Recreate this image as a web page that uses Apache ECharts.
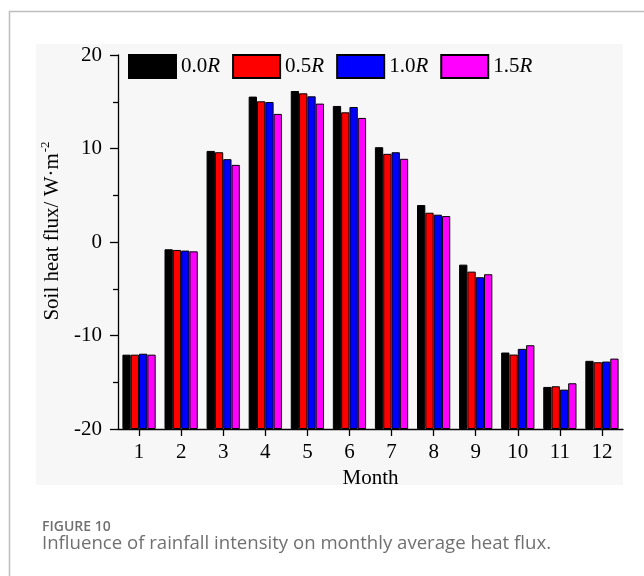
<!DOCTYPE html>
<html>
<head>
<meta charset="utf-8">
<script src="https://cdn.jsdelivr.net/npm/echarts@6/dist/echarts.min.js"></script>
<style>
  html, body { margin: 0; padding: 0; background: #ffffff; }
  #chart { width: 644px; height: 576px; }
</style>
</head>
<body>
<div id="chart"></div>
<script>
// Monthly mean soil heat flux (W·m^-2) under four rainfall intensities
const months = ['1', '2', '3', '4', '5', '6', '7', '8', '9', '10', '11', '12'];
const seriesNames = ['0.0R', '0.5R', '1.0R', '1.5R'];
const flux00R = [-12.05, -0.78, 9.74, 15.55, 16.15, 14.55, 10.14, 3.95, -2.42, -11.82, -15.50, -12.71];
const flux05R = [-12.05, -0.85, 9.60, 15.05, 15.90, 13.87, 9.43, 3.13, -3.17, -12.04, -15.43, -12.86];
const flux10R = [-11.95, -0.92, 8.86, 14.97, 15.58, 14.44, 9.60, 2.92, -3.77, -11.43, -15.79, -12.79];
const flux15R = [-12.05, -1.00, 8.25, 13.70, 14.80, 13.27, 8.90, 2.77, -3.45, -11.04, -15.11, -12.47];
const yTicks = { min: -20, max: 20, interval: 10 };

const seriesData = [flux00R, flux05R, flux10R, flux15R];
const seriesColors = ['#000000', '#ff0000', '#0000ff', '#ff00ff'];
const serif = '"Liberation Serif", "DejaVu Serif", serif';
const sans = '"Open Sans", "Noto Sans", sans-serif';

const chart = echarts.init(document.getElementById('chart'), null, { renderer: 'canvas' });

chart.setOption({
  animation: false,
  backgroundColor: '#ffffff',
  grid: { left: 118, top: 55, right: 21, bottom: 147, containLabel: false },
  legend: {
    left: 128,
    top: 54,
    padding: 0,
    itemWidth: 47,
    itemHeight: 23,
    itemGap: 12,
    icon: 'rect',
    data: seriesNames,
    formatter: function (name) {
      return name.slice(0, -1) + '{i|' + name.slice(-1) + '}';
    },
    textStyle: {
      fontFamily: serif,
      fontSize: 21,
      color: '#000',
      rich: { i: { fontFamily: serif, fontSize: 21, fontStyle: 'italic', color: '#000' } }
    }
  },
  xAxis: {
    type: 'category',
    data: months,
    name: 'Month',
    nameLocation: 'middle',
    nameGap: 39,
    nameTextStyle: { fontFamily: serif, fontSize: 21, color: '#000' },
    axisLine: { show: true, onZero: false, lineStyle: { color: '#000', width: 1.3 } },
    axisTick: { show: true, alignWithLabel: true, length: 7, lineStyle: { color: '#000', width: 1.3 } },
    axisLabel: { fontFamily: serif, fontSize: 21, color: '#000', margin: 13 },
    splitLine: { show: false }
  },
  yAxis: {
    type: 'value',
    min: yTicks.min,
    max: yTicks.max,
    interval: yTicks.interval,
    startValue: yTicks.min,
    axisLine: { show: true, lineStyle: { color: '#000', width: 1.3 } },
    axisTick: { show: true, length: 8, lineStyle: { color: '#000', width: 1.3 } },
    minorTick: { show: true, splitNumber: 2, length: 5, lineStyle: { color: '#000', width: 1.3 } },
    axisLabel: { fontFamily: serif, fontSize: 21, color: '#000', margin: 16 },
    splitLine: { show: false }
  },
  series: seriesNames.map(function (name, i) {
    return {
      name: name,
      type: 'bar',
      data: seriesData[i],
      barGap: '0%',
      barCategoryGap: '21%',
      itemStyle: { color: seriesColors[i], borderColor: '#000', borderWidth: 1 },
      emphasis: { disabled: true }
    };
  }),
  graphic: [
    // figure frame (top and left rules)
    { type: 'line', z: -20, shape: { x1: 9, y1: 11.5, x2: 644, y2: 11.5 }, style: { stroke: '#bdbdbd', lineWidth: 1.5 } },
    { type: 'line', z: -20, shape: { x1: 9.5, y1: 11, x2: 9.5, y2: 576 }, style: { stroke: '#bdbdbd', lineWidth: 1.5 } },
    // light backdrop behind the plot image
    { type: 'rect', z: -10, shape: { x: 36, y: 44, width: 587, height: 441 }, style: { fill: '#f7f7f7' } },
    // y-axis title with superscript unit
    {
      type: 'text', z: 10, x: 51, y: 231, rotation: Math.PI / 2,
      style: {
        text: '{a|Soil heat flux/ W·m}{s|-2}',
        align: 'center', verticalAlign: 'middle',
        rich: {
          a: { fontFamily: serif, fontSize: 21, fill: '#000', verticalAlign: 'bottom', lineHeight: 24 },
          s: { fontFamily: serif, fontSize: 13, fill: '#000', verticalAlign: 'top', lineHeight: 24, padding: [0, 0, 11, 1] }
        }
      }
    },
    // caption
    { type: 'text', x: 42, y: 520, style: { text: 'FIGURE 10', fontFamily: sans, fontSize: 14, fontWeight: 600, fill: '#707070' } },
    { type: 'text', x: 42, y: 534, style: { text: 'Influence of rainfall intensity on monthly average heat flux.', fontFamily: sans, fontSize: 18.6, fill: '#707070' } }
  ]
});
</script>
</body>
</html>
